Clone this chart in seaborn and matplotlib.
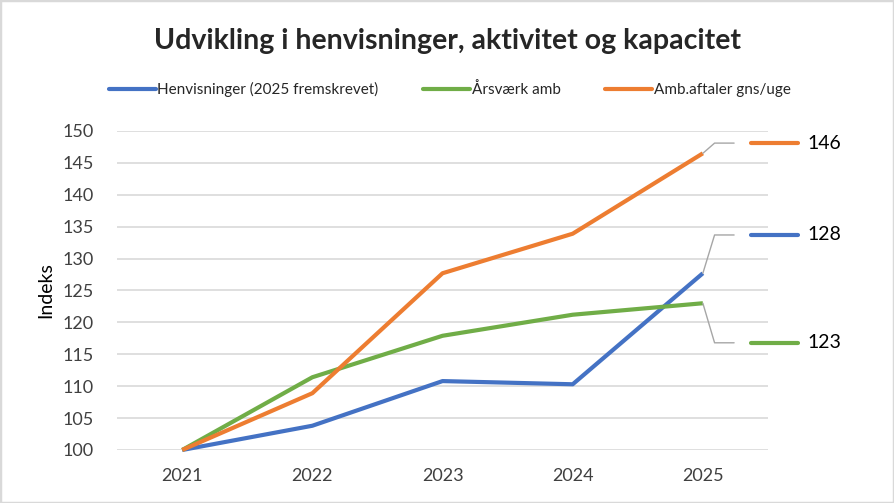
import pandas as pd
import matplotlib.pyplot as plt
import seaborn as sns
from matplotlib.patches import Rectangle

# data (index, 2021 = 100)
years = ["2021", "2022", "2023", "2024", "2025"]
henvisninger = [100, 103.8, 110.8, 110.3, 127.7]
aarsvaerk = [100, 111.4, 117.9, 121.2, 123.0]
amb_aftaler = [100, 108.9, 127.7, 133.9, 146.5]
series_names = ["Henvisninger (2025 fremskrevet)", "Årsværk amb", "Amb.aftaler gns/uge"]
end_labels = ["128", "123", "146"]

colors = ["#4472C4", "#70AD47", "#ED7D31"]
label_y = [133.7, 116.8, 148.1]   # where the data labels sit

df = pd.DataFrame({"År": years * 3,
                   "Indeks": henvisninger + aarsvaerk + amb_aftaler,
                   "Serie": [s for s in series_names for _ in years]})
df["x"] = df["År"].map({y: i for i, y in enumerate(years)})

sns.set_style("white")
plt.rcParams["font.family"] = ["Lato", "DejaVu Sans"]

fig = plt.figure(figsize=(8.94, 5.03), dpi=100)
ax = fig.add_axes([0.131, 0.1054, 0.728, 0.6342])

sns.lineplot(data=df, x="x", y="Indeks", hue="Serie", palette=colors,
             hue_order=series_names, linewidth=3, ax=ax, legend=False)
for ln in ax.lines:
    ln.set_clip_on(False)
    ln.set_solid_capstyle("butt")

ax.set_xlim(-0.5, 4.5)
ax.set_ylim(100, 150)
ax.set_yticks(range(100, 151, 5))
ax.set_xticks(range(len(years)))
ax.set_xticklabels(years)
ax.grid(axis="y", color="#D9D9D9", linewidth=1.2)
ax.set_axisbelow(True)
for sp in ax.spines.values():
    sp.set_visible(False)
ax.tick_params(axis="x", length=0, labelsize=13, colors="#404040", pad=13)
ax.tick_params(axis="y", length=0, labelsize=13, colors="#404040", pad=17)
ax.set_xlabel("")
ax.set_ylabel("Indeks", fontsize=14, color="#000000", va="center")
ax.yaxis.set_label_coords(-0.11, 0.5)

# data labels with leader lines to the right of the plot
end_vals = [henvisninger[-1], aarsvaerk[-1], amb_aftaler[-1]]
for val, ly, lab, c in zip(end_vals, label_y, end_labels, colors):
    ax.plot([4, 4.09, 4.24], [val, ly, ly], color="#A6A6A6", lw=1, clip_on=False)
    ax.plot([4.37, 4.73], [ly, ly], color=c, lw=3, clip_on=False, solid_capstyle="round")
    ax.text(4.8, ly, lab, fontsize=14, va="center", ha="left", color="#000000")

fig.suptitle("Udvikling i henvisninger, aktivitet og kapacitet", y=0.945,
             fontsize=20.5, fontweight="bold")

handles = [plt.Line2D([], [], color=c, lw=3, solid_capstyle="round") for c in colors]
fig.legend(handles, series_names, loc="center", bbox_to_anchor=(0.503, 0.822), ncol=3,
           frameon=False, fontsize=11, handlelength=3.1, handletextpad=0.1,
           columnspacing=2.9)

fig.patches.append(Rectangle((0, 0), 1, 1, transform=fig.transFigure, fill=False,
                             edgecolor="#D9D9D9", linewidth=2.5))

fig.savefig("out.png", dpi=100)
